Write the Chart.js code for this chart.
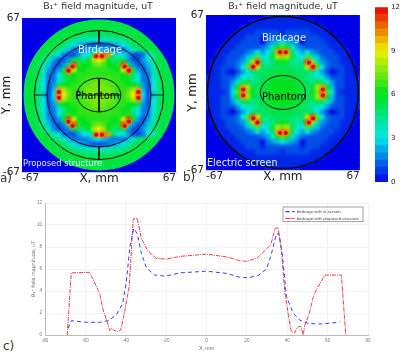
<!DOCTYPE html>
<html>
<head>
<meta charset="utf-8">
<script src="https://cdn.jsdelivr.net/npm/chart.js@4"></script>
<style>
  html, body { margin: 0; padding: 0; background: #fff; }
  #page { position: relative; width: 400px; height: 353px; overflow: hidden; font-family: "DejaVu Sans", sans-serif; }
  canvas { position: absolute; }
  .note { position: absolute; white-space: nowrap; line-height: 1; }
</style>
</head>
<body>
<div id="page">
  <canvas id="panelA" width="182" height="186" style="left:0;top:0"></canvas>
  <canvas id="panelB" width="178" height="184" style="left:186px;top:0"></canvas>
  <canvas id="colorBar" width="35" height="190" style="left:365px;top:0"></canvas>
  <canvas id="profile" width="375" height="158" style="left:25px;top:195px"></canvas>

  <div class="note" style="left:78px;top:45px;font-size:10px;color:#e8f0ff">Birdcage</div>
  <div class="note" style="left:75px;top:91px;font-size:10px;color:#000">Phantom</div>
  <div class="note" style="left:23px;top:159px;font-size:8.4px;color:#e8f0ff">Proposed structure</div>
  <div class="note" style="left:262px;top:33px;font-size:10px;color:#e8f0ff">Birdcage</div>
  <div class="note" style="left:262px;top:92px;font-size:10px;color:#000">Phantom</div>
  <div class="note" style="left:207px;top:158px;font-size:9.6px;color:#e8f0ff">Electric screen</div>
  <div class="note" style="left:0;top:172px;font-size:12px;color:#333">a)</div>
  <div class="note" style="left:183px;top:171px;font-size:12px;color:#333">b)</div>
  <div class="note" style="left:3px;top:340px;font-size:12px;color:#333">c)</div>
</div>

<script>
// heat map cells: one character per cell, position in cellCodes / 2 = field in uT
const cellCodes = '0123456789abcdefghijklmno';
const panelARows = [
  '0000000000bbbbbbbbbbb0000000000',
  '0000000bbbbbbbbbbbbbbbbb0000000',
  '00000bbbbbbbbbbbbbbbbbbbbb00000',
  '0000bbbbbbbbaaaaaaabbbbbbbb0000',
  '000bbbbbba98877677889abbbbbb000',
  '00bbbbbba8654322234568abbbbbb00',
  '00bbbba97533345654333579abbbb00',
  '0babba86322466akmka66422368abb0',
  '0bbb974224ba9cgigc9ab422479bbb0',
  'baba85324andccefeccdna42358abab',
  'bbba7424bniccdddddccinb4247abbb',
  'bbba7336adcdddddddddcda6337abbb',
  'abb963369ccddeeeeeddcc963369bba',
  'bbb9624accddeefffeeddcca4269bbb',
  'bbb9625kgeddefffffeddegk5269bbb',
  'bbb9526mifddefffffeddfim6259bbb',
  'bbb9625kgeddefffffeddegk5269bbb',
  'bbb9624accddeefffeeddcca4269bbb',
  'abb963369ccddeeeeeddcc963369bba',
  'bbba7336adcdddddddddcda6337abbb',
  'bbba7424bniccdddddccinb4247abbb',
  'baba85324andccefeccdna42358abab',
  '0bbb974224ba9cgigc9ab422479bbb0',
  '0babba86322466akmka66422368abb0',
  '00bbbba97533345654333579abbbb00',
  '00bbbbbba8654322234568abbbbbb00',
  '000bbbbbba98877677889abbbbbb000',
  '0000bbbbbbbbaaaaaaabbbbbbbb0000',
  '00000bbbbbbbbbbbbbbbbbbbbb00000',
  '0000000bbbbbbbbbbbbbbbbb0000000',
  '0000000000bbbbbbbbbbb0000000000'
];
const panelBRows = [
  '0000000000001111111000000000000',
  '0000000001111111111111000000000',
  '0000000111111111111111110000000',
  '0000001111222221222221111000000',
  '0000011122212222222122211100000',
  '0000111222203456543022221110000',
  '00011122222347cec74322222111000',
  '0011122234646akmka6464322211100',
  '0011222358e67bgfgb76e8532221100',
  '011122348gn989bcb989ng843221110',
  '01122236enha9aaaaa9ahne63222110',
  '0112102469aaabbbbbaaa9642012110',
  '11122246789abbbcbbba98764222111',
  '1112247ab9abbcccccbba9ba7422111',
  '111225ckgbabbcccccbbabgkc522111',
  '111126emfcabcccccccbacfme621111',
  '111225ckgbabbcccccbbabgkc522111',
  '1112247ab9abbcccccbba9ba7422111',
  '11122246789abbbcbbba98764222111',
  '0112102469aaabbbbbaaa9642012110',
  '01122236enha9aaaaa9ahne63222110',
  '011122348gn989bcb989ng843221110',
  '0011222358e67bgfgb76e8532221100',
  '0011122234646akmka6464322211100',
  '00011122222347cec74322222111000',
  '0000111222203456543022221110000',
  '0000011122212222222122211100000',
  '0000001111222221222221111000000',
  '0000000111111111111111110000000',
  '0000000001111111111111000000000',
  '0000000000001111111000000000000'
];

// red hot spots on the coil legs, mm
const panelAHotX = [-2.5, 2.5, -2.5, 2.5, -34.9, -34.9, 34.3, 34.3, 22.4, 26, -23, -26.6, 22.4, 26, -23, -26.6];
const panelAHotY = [33.7, 33.7, -34.6, -34.6, 2.5, -2.5, 2.5, -2.5, 24.8, 21.2, 24.8, 21.2, -26.8, -23.2, -26.8, -23.2];
const panelBHotX = [-2.5, 2.5, -2.5, 2.5, -34.6, -34.6, 34.8, 34.8, 22.7, 26.3, -22.2, -25.8, 22.7, 26.3, -22.2, -25.8];
const panelBHotY = [34.8, 34.8, -35, -35, 2.5, -2.5, 2.5, -2.5, 25.8, 22.2, 25.8, 22.2, -26, -22.4, -26, -22.4];

// outlines in mm: x radius, y radius, line width, colour
const panelARings = [[71.75, 71.75, 14, '#0000e8'], [56.2, 56.2, 1, '#0a0a0a'], [45.2, 45.2, 1, '#0a0a0a'], [19, 14.7, 1, '#0a0a0a']];
const panelBRings = [[65.7, 65.7, 1.6, '#0a0a0a'], [19.6, 14.7, 1, '#0a0a0a']];
const crossX = [0, 0, null, 0, 0, null, 0, 0, null, -56, -45, null, 45, 56, null, -19, 19];
const crossY = [56, 45, null, 14.7, -14.7, null, -45, -56, null, 0, 0, null, 0, 0, null, 0, 0];

const mapTicks = [-67, 67];
const barLevels = [0, 0.5, 1, 1.5, 2, 2.5, 3, 3.5, 4, 4.5, 5, 5.5, 6, 6.5, 7, 7.5, 8, 8.5, 9, 9.5, 10, 10.5, 11, 11.5];
const barTicks = [0, 3, 6, 9, 12];

// colour map stops: field value, r, g, b
const colorStops = [[0, 0, 0, 232], [3, 0, 232, 232], [6, 0, 226, 30], [9, 240, 240, 0], [12, 232, 0, 0]];

// profile lines
const blueX = [-68.5, -67, -59.4, -53, -48.6, -44.5, -41.5, -39.6, -38, -36, -34.3, -32.2, -29.7, -25.6, -20.6, -13, 0, 10, 16.5, 20.6, 25.6, 29.7, 32, 34.6, 35.9, 37.6, 39.6, 42.9, 46.2, 50.3, 56, 62.6, 66];
const blueY = [0.6, 1.3, 1.15, 1.15, 1.3, 1.85, 2.9, 5, 8, 9.7, 9.2, 7.4, 6.1, 5.45, 5.35, 5.65, 5.8, 5.6, 5.25, 5.2, 5.4, 6, 7.25, 9.2, 9.2, 7.25, 3.5, 2, 1.35, 1.05, 1, 1.1, 1.2];
const redX = [-69, -68.5, -67, -58, -56, -53, -51, -49.5, -48, -47.3, -44.5, -42.5, -41, -38.3, -36.3, -34.3, -32.2, -29, -24.7, -19.8, -13, 0, 10, 16.5, 20, 25, 30, 32, 34, 35.5, 37, 38.8, 40.4, 42, 43.7, 45, 46.7, 47.9, 48.7, 51, 52.8, 54.4, 58.6, 66.8, 69];
const redY = [0, 1.4, 5.65, 5.7, 5, 3.8, 2.1, 1.4, 0.4, 0.6, 0.3, 0.45, 1.7, 4.4, 10.55, 10.6, 8.75, 7.65, 6.95, 6.9, 7.15, 7.35, 7.1, 6.75, 6.7, 7, 7.85, 8.3, 9.7, 9.75, 7.85, 3.9, 2, 0.3, 0.2, 0.7, 0.8, 0, 0.9, 2, 3.4, 4.1, 5.45, 5.45, 0];
const profileXTicks = [-80, -60, -40, -20, 0, 20, 40, 60, 80];
const profileYTicks = [0, 2, 4, 6, 8, 10, 12];

function fieldColor(v) {
  let i = 0;
  while (i < colorStops.length - 2 && v > colorStops[i + 1][0]) i++;
  const a = colorStops[i], b = colorStops[i + 1];
  const t = (v - a[0]) / (b[0] - a[0]);
  const mix = k => Math.round(a[k] + (b[k] - a[k]) * t);
  return 'rgb(' + mix(1) + ',' + mix(2) + ',' + mix(3) + ')';
}

function pairs(xs, ys) {
  return xs.map((x, i) => ({ x: x, y: ys[i] }));
}

// softens the cell mosaic once it is drawn, the outlines go on top
const softenCells = {
  id: 'softenCells',
  afterDatasetDraw(chart, args) {
    if (chart.data.datasets[args.index].label !== 'cells') return;
    const a = chart.chartArea, ctx = chart.ctx;
    ctx.save();
    ctx.beginPath();
    ctx.rect(a.left, a.top, a.width, a.height);
    ctx.clip();
    ctx.filter = 'blur(1.4px)';
    ctx.drawImage(chart.canvas, a.left, a.top, a.width, a.height, a.left, a.top, a.width, a.height);
    ctx.restore();
  }
};

const drawRings = {
  id: 'drawRings',
  beforeDatasetDraw(chart, args, opts) {
    // rings sit under the hot spots and the cross, over the cells
    const label = chart.data.datasets[args.index].label;
    if ((label !== 'cross' && label !== 'glow') || chart.$ringsDone) return;
    chart.$ringsDone = true;
    const a = chart.chartArea, ctx = chart.ctx, sx = chart.scales.x, sy = chart.scales.y;
    const cx = sx.getPixelForValue(0), cy = sy.getPixelForValue(0);
    ctx.save();
    ctx.beginPath();
    ctx.rect(a.left, a.top, a.width, a.height);
    ctx.clip();
    opts.rings.forEach(r => {
      ctx.lineWidth = r[2];
      ctx.strokeStyle = r[3];
      ctx.beginPath();
      ctx.ellipse(cx, cy, sx.getPixelForValue(r[0]) - cx, cy - sy.getPixelForValue(r[1]), 0, 0, 2 * Math.PI);
      ctx.stroke();
    });
    ctx.restore();
  }
};

function fixedScale(scale, size) {
  if (scale.isHorizontal()) scale.height = size;
  else scale.width = size;
}

function mapChart(id, rows, rings, hotX, hotY, withCross, top, yWidth, right) {
  const cells = [], colors = [];
  const step = 134 / rows.length;
  rows.forEach((row, r) => {
    for (let c = 0; c < row.length; c++) {
      cells.push({ x: -67 + step * (c + 0.5), y: 67 - step * (r + 0.5) });
      colors.push(fieldColor(cellCodes.indexOf(row[c]) / 2));
    }
  });
  const datasets = [
    { label: 'core', data: pairs(hotX, hotY), pointRadius: 2.1, pointBorderWidth: 0, pointBackgroundColor: '#cf0a12' },
    { label: 'glow', data: pairs(hotX, hotY), pointRadius: 3.4, pointBorderWidth: 0, pointBackgroundColor: 'rgba(250,130,0,0.75)' }
  ];
  if (withCross) {
    datasets.push({ label: 'cross', data: pairs(crossX, crossY), showLine: true, spanGaps: false, borderColor: '#0a0a0a', borderWidth: 0.9, pointRadius: 0 });
  }
  datasets.push({ label: 'cells', data: cells, pointStyle: 'rect', pointRadius: 4.2, pointBorderWidth: 0, pointBackgroundColor: colors, pointHoverRadius: 4.2 });

  const tickFont = { family: 'DejaVu Sans', size: 10.5 };
  const titleFont = { family: 'DejaVu Sans', size: 12 };
  new Chart(document.getElementById(id), {
    type: 'scatter',
    data: { datasets: datasets },
    plugins: [softenCells, drawRings],
    options: {
      responsive: false,
      animation: false,
      layout: { padding: { left: 0, right: right, top: top, bottom: 0 } },
      plugins: {
        legend: { display: false },
        tooltip: { enabled: false },
        drawRings: { rings: rings }
      },
      scales: {
        x: {
          min: -67, max: 67,
          grid: { display: false, drawTicks: false },
          border: { color: '#c9c9e6' },
          afterBuildTicks: s => { s.ticks = mapTicks.map(v => ({ value: v })); },
          afterFit: s => fixedScale(s, 14),
          ticks: { color: '#222', font: tickFont, maxRotation: 0, align: 'inner', padding: 0 },
          title: { display: true, text: 'X, mm', color: '#222', font: titleFont, padding: 0 }
        },
        y: {
          min: -67, max: 67,
          grid: { display: false, drawTicks: false },
          border: { color: '#c9c9e6' },
          afterBuildTicks: s => { s.ticks = mapTicks.map(v => ({ value: v })); },
          afterFit: s => fixedScale(s, yWidth),
          ticks: { color: '#222', font: tickFont, padding: 2 },
          title: { display: true, text: 'Y, mm', color: '#222', font: titleFont, padding: 0 }
        }
      }
    }
  });
}

mapChart('panelA', panelARows, panelARings, panelAHotX, panelAHotY, true, 18, 22, 6);
mapChart('panelB', panelBRows, panelBRings, panelBHotX, panelBHotY, false, 15, 20, 4);

new Chart(document.getElementById('colorBar'), {
  type: 'bar',
  data: {
    labels: ['field'],
    datasets: barLevels.map(l => ({ data: [[l, l + 0.5]], backgroundColor: fieldColor(l + 0.25), borderWidth: 0 }))
  },
  options: {
    responsive: false,
    animation: false,
    layout: { padding: { left: 10, right: 0, top: 7, bottom: 8 } },
    plugins: { legend: { display: false }, tooltip: { enabled: false } },
    datasets: { bar: { grouped: false, barPercentage: 1, categoryPercentage: 1 } },
    scales: {
      x: { display: false },
      y: {
        position: 'right',
        min: 0, max: 12,
        grid: { display: false, drawTicks: false },
        border: { display: false },
        afterBuildTicks: s => { s.ticks = barTicks.map(v => ({ value: v })); },
        afterFit: s => fixedScale(s, 12),
        ticks: { color: '#222', font: { family: 'DejaVu Sans', size: 7 }, padding: 3 }
      }
    }
  }
});

// moves the legend into the upper right of the line plot and frames it
const frameWidth = 80, frameHeight = 14.7;
const legendFrame = {
  id: 'legendFrame',
  afterLayout(chart) {
    const l = chart.legend, a = chart.chartArea;
    l.right = a.right - 5;
    l.left = l.right - frameWidth;
    l.top = a.top + 4;
  },
  afterDraw(chart) {
    const l = chart.legend, ctx = chart.ctx;
    ctx.save();
    ctx.strokeStyle = '#7a7a7a';
    ctx.lineWidth = 0.7;
    ctx.strokeRect(l.left, l.top, frameWidth, frameHeight);
    ctx.restore();
  }
};

const smallFont = { family: 'Liberation Sans', size: 4.6 };
const legendFont = { family: 'Liberation Sans', size: 4.3 };

new Chart(document.getElementById('profile'), {
  type: 'scatter',
  data: {
    datasets: [
      { label: 'birdcage with el.screen', data: pairs(blueX, blueY), showLine: true, borderColor: '#3d3df0', backgroundColor: 'rgba(0,0,0,0)', borderWidth: 1, borderDash: [4, 3], pointRadius: 0 },
      { label: 'birdcage with proposed structure', data: pairs(redX, redY), showLine: true, borderColor: '#f03a48', backgroundColor: 'rgba(0,0,0,0)', borderWidth: 1, borderDash: [4, 1, 1, 1], pointRadius: 0 }
    ]
  },
  plugins: [legendFrame],
  options: {
    responsive: false,
    animation: false,
    layout: { padding: { left: 0, right: 32, top: 8, bottom: 0 } },
    plugins: {
      tooltip: { enabled: false },
      legend: {
        position: 'chartArea',
        align: 'start',
        labels: { font: legendFont, color: '#444', boxWidth: 9, boxHeight: 0, padding: 2.5 }
      }
    },
    scales: {
      x: {
        min: -80, max: 80,
        grid: { color: '#efefef', lineWidth: 0.8, drawTicks: false },
        border: { color: '#bbb' },
        afterBuildTicks: s => { s.ticks = profileXTicks.map(v => ({ value: v })); },
        afterFit: s => fixedScale(s, 18),
        ticks: { color: '#777', font: smallFont, padding: 3 },
        title: { display: true, text: 'X, mm', color: '#666', font: { family: 'Liberation Sans', size: 5.2 }, padding: { top: 1, bottom: 1 } }
      },
      y: {
        min: 0, max: 12,
        grid: { color: '#efefef', lineWidth: 0.8, drawTicks: false },
        border: { color: '#bbb' },
        afterBuildTicks: s => { s.ticks = profileYTicks.map(v => ({ value: v })); },
        afterFit: s => fixedScale(s, 20),
        ticks: { color: '#777', font: smallFont, padding: 3 },
        title: { display: true, text: 'B\u2081\u207A field magnitude, uT', color: '#666', font: { family: 'DejaVu Sans', size: 4.8 }, padding: { top: 6, bottom: 0 } }
      }
    }
  }
});

// panel headings, drawn last so they sit above both map canvases
[['panelA', 98], ['panelB', 97]].forEach(h => {
  const d = document.createElement('div');
  d.className = 'note';
  d.textContent = 'B\u2081\u207A field magnitude, uT';
  d.style.fontSize = '9.4px';
  d.style.color = '#333';
  d.style.top = '1px';
  d.style.left = (h[0] === 'panelA' ? h[1] : 186 + h[1]) + 'px';
  d.style.transform = 'translateX(-50%)';
  document.getElementById('page').appendChild(d);
});
</script>
</body>
</html>
